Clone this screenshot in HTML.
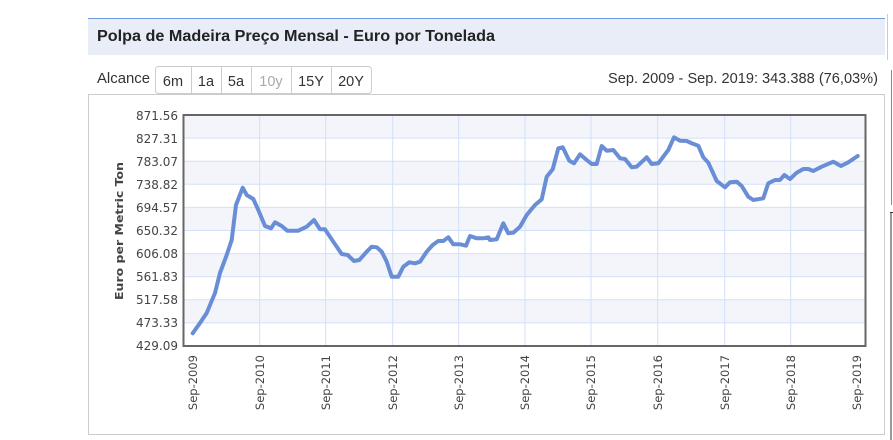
<!DOCTYPE html>
<html><head><meta charset="utf-8"><style>
body{margin:0;width:893px;height:440px;background:#fff;font-family:"Liberation Sans",sans-serif;overflow:hidden;position:relative}
</style></head><body>
<svg width="893" height="440" style="position:absolute;left:0;top:0" font-family="Liberation Sans, sans-serif">
<rect x="88" y="18" width="797" height="37" fill="#e8edf8"/>
<line x1="88" y1="18.5" x2="885" y2="18.5" stroke="#6f9be0" stroke-width="1"/>
<text x="97" y="41" font-size="16" font-weight="bold" fill="#222" textLength="398" lengthAdjust="spacingAndGlyphs">Polpa de Madeira Preço Mensal - Euro por Tonelada</text>
<line x1="887.5" y1="14" x2="887.5" y2="60" stroke="#ccc"/>
<text x="97" y="83" font-size="14.5" fill="#333" textLength="53" lengthAdjust="spacingAndGlyphs">Alcance</text>
<rect x="155.5" y="66.5" width="216" height="27" rx="3" fill="#fff" stroke="#ccc"/>
<g stroke="#ccc"><line x1="191.5" y1="67" x2="191.5" y2="93"/><line x1="221.5" y1="67" x2="221.5" y2="93"/><line x1="251.5" y1="67" x2="251.5" y2="93"/><line x1="291.5" y1="67" x2="291.5" y2="93"/><line x1="331.5" y1="67" x2="331.5" y2="93"/></g>
<g font-size="14.5" fill="#333" text-anchor="middle"><text x="173" y="86">6m</text><text x="206" y="86">1a</text><text x="236" y="86">5a</text><text x="271" y="86" fill="#aaa">10y</text><text x="311" y="86">15Y</text><text x="351" y="86">20Y</text></g>
<text x="878" y="83" font-size="14.5" fill="#333" text-anchor="end" textLength="270" lengthAdjust="spacingAndGlyphs">Sep. 2009 - Sep. 2019: 343.388 (76,03%)</text>
<rect x="88.5" y="94.5" width="796" height="340" fill="#fff" stroke="#ccc"/>
<line x1="891.5" y1="70" x2="891.5" y2="205" stroke="#888"/>
<line x1="890" y1="212.5" x2="893" y2="212.5" stroke="#333"/>
<line x1="891" y1="212" x2="891" y2="440" stroke="#333"/>
<g fill="#f3f5fb">
<rect x="183" y="115" width="683" height="23.1"/><rect x="183" y="161.2" width="683" height="23.1"/><rect x="183" y="207.4" width="683" height="23.1"/><rect x="183" y="253.6" width="683" height="23.1"/><rect x="183" y="299.8" width="683" height="23.1"/>
</g>
<g stroke="#d3e0f7" stroke-width="1">
<line x1="183" y1="138.1" x2="866" y2="138.1"/><line x1="183" y1="161.2" x2="866" y2="161.2"/><line x1="183" y1="184.3" x2="866" y2="184.3"/><line x1="183" y1="207.4" x2="866" y2="207.4"/><line x1="183" y1="230.5" x2="866" y2="230.5"/><line x1="183" y1="253.6" x2="866" y2="253.6"/><line x1="183" y1="276.7" x2="866" y2="276.7"/><line x1="183" y1="299.8" x2="866" y2="299.8"/><line x1="183" y1="322.9" x2="866" y2="322.9"/>
<line x1="259.7" y1="115" x2="259.7" y2="346"/><line x1="325.7" y1="115" x2="325.7" y2="346"/><line x1="392.7" y1="115" x2="392.7" y2="346"/><line x1="458.7" y1="115" x2="458.7" y2="346"/><line x1="525" y1="115" x2="525" y2="346"/><line x1="591" y1="115" x2="591" y2="346"/><line x1="657.7" y1="115" x2="657.7" y2="346"/><line x1="724.7" y1="115" x2="724.7" y2="346"/><line x1="790.7" y1="115" x2="790.7" y2="346"/>
</g>
<rect x="183.5" y="115" width="682" height="231" fill="none" stroke="#666" stroke-width="2"/>
<g font-size="12" fill="#444" text-anchor="end" font-family="DejaVu Sans, sans-serif">
<text x="178" y="120">871.56</text><text x="178" y="143">827.31</text><text x="178" y="166">783.07</text><text x="178" y="189">738.82</text><text x="178" y="212">694.57</text><text x="178" y="235">650.32</text><text x="178" y="258">606.08</text><text x="178" y="281">561.83</text><text x="178" y="304">517.58</text><text x="178" y="327">473.33</text><text x="178" y="350">429.09</text>
</g>
<text transform="translate(123,231) rotate(-90)" font-size="11" font-weight="bold" fill="#444" text-anchor="middle" font-family="DejaVu Sans, sans-serif" textLength="138" lengthAdjust="spacingAndGlyphs">Euro per Metric Ton</text>
<g font-size="11.5" fill="#444" text-anchor="end" font-family="DejaVu Sans, sans-serif">
<text transform="translate(197,355) rotate(-90)">Sep-2009</text>
<text transform="translate(264,355) rotate(-90)">Sep-2010</text>
<text transform="translate(330,355) rotate(-90)">Sep-2011</text>
<text transform="translate(397,355) rotate(-90)">Sep-2012</text>
<text transform="translate(463,355) rotate(-90)">Sep-2013</text>
<text transform="translate(529,355) rotate(-90)">Sep-2014</text>
<text transform="translate(595,355) rotate(-90)">Sep-2015</text>
<text transform="translate(662,355) rotate(-90)">Sep-2016</text>
<text transform="translate(729,355) rotate(-90)">Sep-2017</text>
<text transform="translate(795,355) rotate(-90)">Sep-2018</text>
<text transform="translate(861,355) rotate(-90)">Sep-2019</text>
</g>
<polyline fill="none" stroke="#6a8ed6" stroke-width="4" stroke-linejoin="round" stroke-linecap="round" points="192.7,333.3 200,323 206.7,313 215,293 220,273 226.7,255 231.7,240 236,205 242.7,187.7 246.7,195 253.3,199 258.3,210 265,226 271,228.3 275,222.3 281.7,226 287.3,230.7 298.3,230.7 306.7,226.7 314,220 320,229.3 325,229.3 333.3,241.7 341.7,254 347.7,255 354,261 359.3,260 366.7,251.7 371.7,246.7 376.7,247.3 381.7,251.7 386.7,261.7 391.7,276.7 398.3,276.7 403.3,266.7 409.3,262.3 415,263.3 420,261.7 426.7,251.7 432.7,245 438.3,241 443.3,241 448.3,237.3 453.3,244.3 460,244.3 466,245.7 470,236 476.7,238.3 483.3,238.3 488.3,237.3 490,240 496.7,239.3 503.3,223.3 508.3,233.3 513.3,232.7 520,226.7 526.7,215 535,205 541.7,199.3 546.7,176.7 552.7,169.3 558.3,148.3 562.7,147.3 569.3,160.7 574,163.3 580,154.3 586.7,160 591.7,164 596.7,164 601.7,146 606.7,150.7 613.3,150 620,158.3 625,159 631.7,167.3 636.7,166.7 646.7,157.3 651.7,164 658.3,163.3 668.3,150 674,137.3 680,140.7 686.7,141 691.7,143.3 698.3,145.7 703.3,157.3 708.3,162.7 716.7,181 725,187.3 730,182.3 736.7,181.7 741.7,186 748.3,196.7 753.3,200 763.3,198.3 768.3,183.3 775,180 780,180 784.3,175 790,179 796.7,172.7 803.3,169 808.3,169 813.3,171 821.7,166.7 833.3,161.7 841,166 848.3,162.3 857.7,156"/>
</svg>
</body></html>
